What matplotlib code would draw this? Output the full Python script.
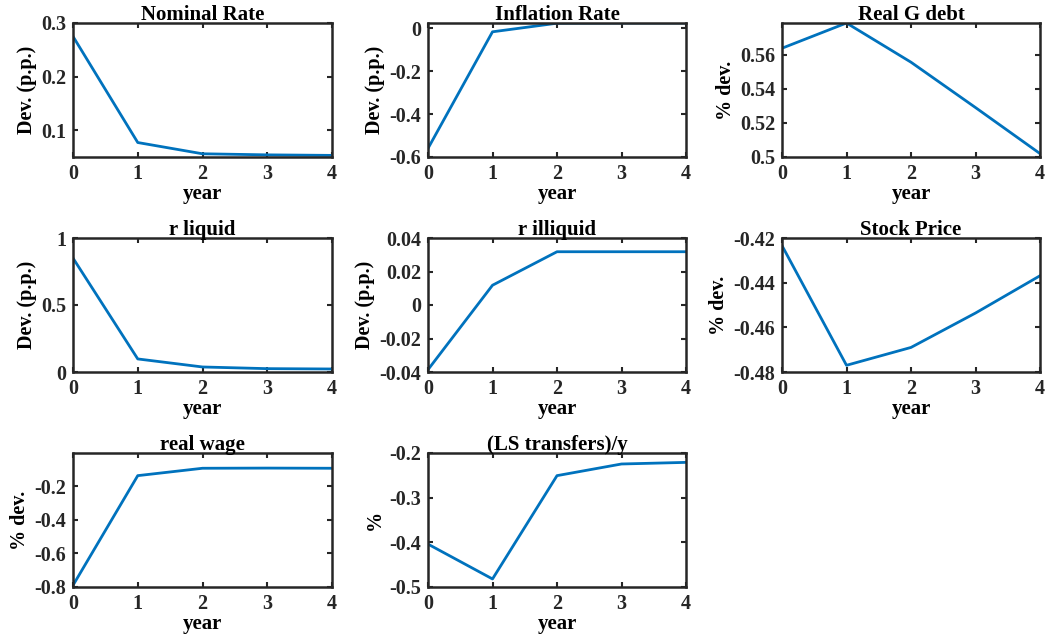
import numpy as np
import matplotlib
matplotlib.use("Agg")
import matplotlib.pyplot as plt

# -------- DATA --------
years = [0, 1, 2, 3, 4]

nominal_rate = [0.275, 0.077, 0.056, 0.054, 0.053]
inflation_rate = [-0.560, -0.017, 0.023, 0.024, 0.024]
real_g_debt = [0.5638, 0.5786, 0.5556, 0.5290, 0.5020]
r_liquid = [0.850, 0.0975, 0.0375, 0.025, 0.0225]
r_illiquid = [-0.0386, 0.0118, 0.0318, 0.0318, 0.0318]
stock_price = [-0.4234, -0.4770, -0.4690, -0.4536, -0.4369]
real_wage = [-0.790, -0.136, -0.092, -0.091, -0.092]
ls_transfers = [-0.404, -0.482, -0.2507, -0.2246, -0.2210]

titles = ["Nominal Rate", "Inflation Rate", "Real G debt",
          "r liquid", "r illiquid", "Stock Price",
          "real wage", "(LS transfers)/y"]
ylabels = ["Dev. (p.p.)", "Dev. (p.p.)", "% dev.",
           "Dev. (p.p.)", "Dev. (p.p.)", "% dev.",
           "% dev.", "%"]
ylims = [(0.05, 0.3), (-0.6, 0.024), (0.5, 0.5786),
         (0, 1), (-0.04, 0.04), (-0.48, -0.42),
         (-0.8, -0.001), (-0.5, -0.2)]
yticks = [[0.1, 0.2, 0.3], [-0.6, -0.4, -0.2, 0], [0.5, 0.52, 0.54, 0.56],
          [0, 0.5, 1], [-0.04, -0.02, 0, 0.02, 0.04], [-0.48, -0.46, -0.44, -0.42],
          [-0.8, -0.6, -0.4, -0.2], [-0.5, -0.4, -0.3, -0.2]]
yticklabels = [["0.1", "0.2", "0.3"], ["-0.6", "-0.4", "-0.2", "0"],
               ["0.5", "0.52", "0.54", "0.56"], ["0", "0.5", "1"],
               ["-0.04", "-0.02", "0", "0.02", "0.04"],
               ["-0.48", "-0.46", "-0.44", "-0.42"],
               ["-0.8", "-0.6", "-0.4", "-0.2"], ["-0.5", "-0.4", "-0.3", "-0.2"]]
series = [nominal_rate, inflation_rate, real_g_debt, r_liquid,
          r_illiquid, stock_price, real_wage, ls_transfers]

# -------- LAYOUT (pixels) --------
W, H = 1045, 636
col_x = [(73, 332), (428, 686), (782, 1040)]
row_y = [(23, 157), (238, 372), (453, 587)]

plt.rcParams["font.family"] = ["Liberation Serif", "DejaVu Serif"]
plt.rcParams["font.weight"] = "bold"
plt.rcParams["axes.labelweight"] = "bold"
plt.rcParams["axes.titleweight"] = "bold"

LINE_COLOR = "#0072BD"
FRAME = "#262626"
FS = 14.5

fig = plt.figure(figsize=(W / 100, H / 100), dpi=100)

for i, vals in enumerate(series):
    r, c = divmod(i, 3)
    x0, x1 = col_x[c]
    y0, y1 = row_y[r]
    ax = fig.add_axes([x0 / W, 1 - y1 / H, (x1 - x0) / W, (y1 - y0) / H])
    ax.plot(years, vals, color=LINE_COLOR, lw=2)
    ax.set_xlim(0, 4)
    ax.set_ylim(*ylims[i])
    ax.set_xticks(years)
    ax.set_yticks(yticks[i])
    ax.set_yticklabels(yticklabels[i])
    ax.tick_params(direction="in", top=True, right=True, length=3.5, width=1.5,
                   colors=FRAME, labelsize=FS)
    ax.tick_params(axis="x", pad=5)
    ax.tick_params(axis="y", pad=5)
    for s in ax.spines.values():
        s.set_linewidth(1.8)
        s.set_color(FRAME)
    ax.set_title(titles[i], fontsize=FS + 0.5, pad=2, color="black")
    ax.set_xlabel("year", fontsize=FS + 0.5, labelpad=0)
    ax.set_ylabel(ylabels[i], fontsize=FS, labelpad=3)

fig.savefig("out.png", dpi=100)
